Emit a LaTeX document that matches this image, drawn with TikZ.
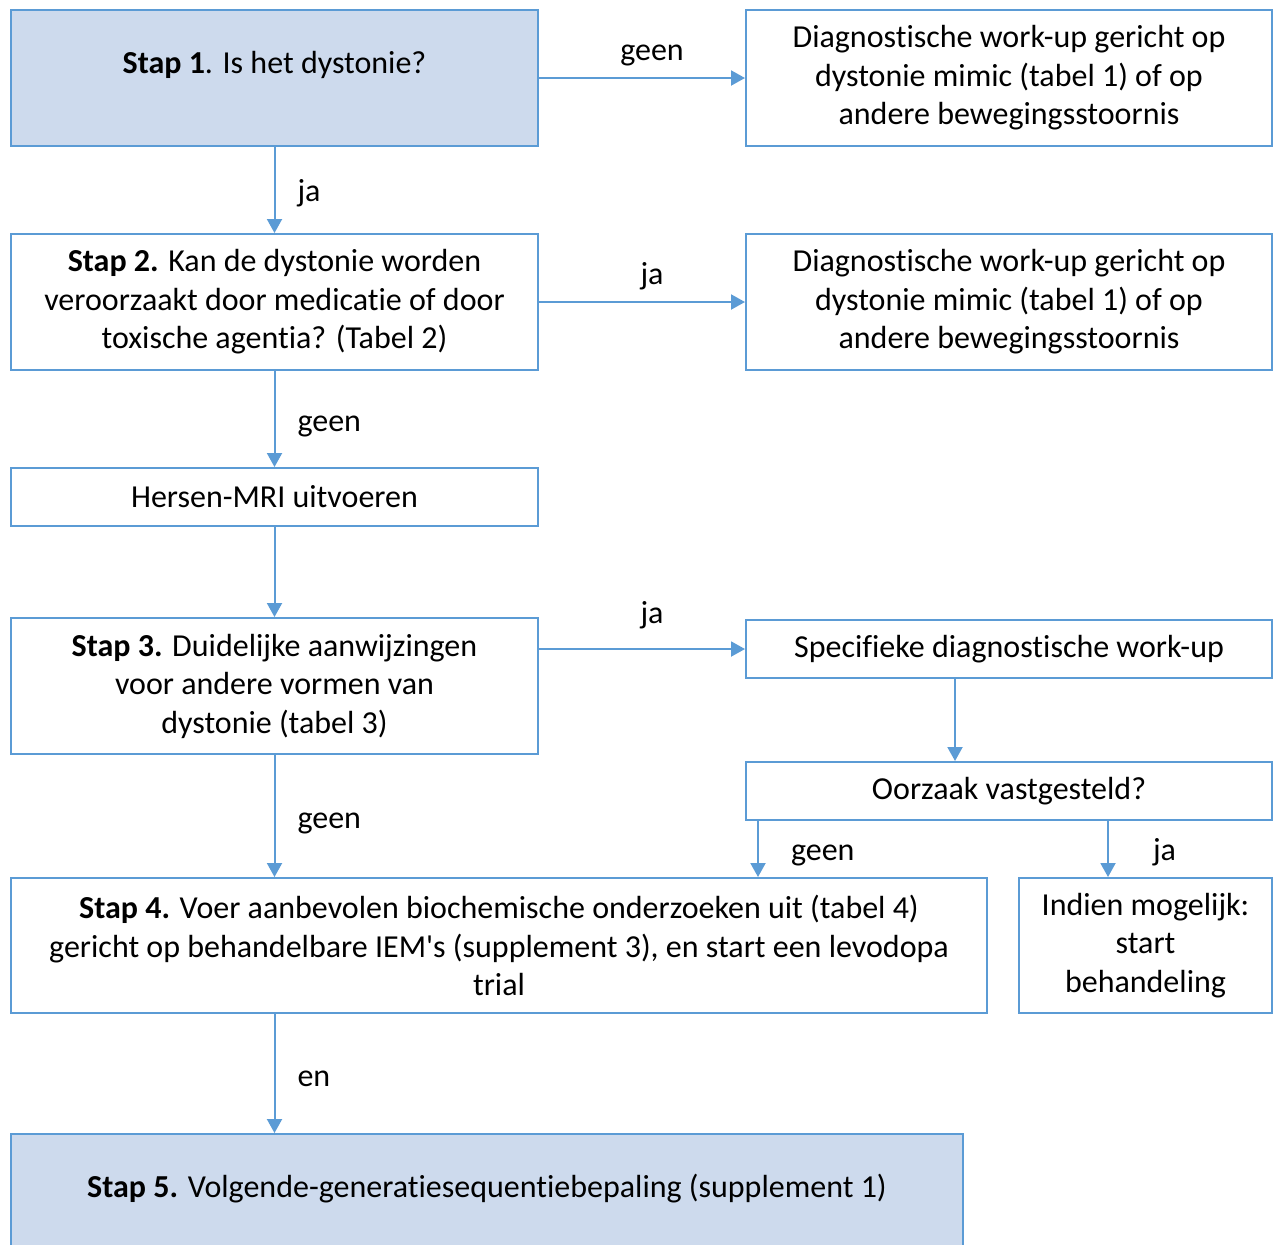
\documentclass[tikz,border=0pt]{standalone}
\usepackage{fontspec}
\setmainfont{Carlito}[RawFeature={-liga;-clig;-dlig;-calt}]
\usetikzlibrary{arrows.meta}
\definecolor{boxblue}{RGB}{91,155,213}
\definecolor{boxfill}{RGB}{205,218,237}
\tikzset{
    box/.style={draw=boxblue, line width=1pt, align=center, inner sep=0pt,
        font=\fontsize{16}{19.25}\selectfont},
    stapbox/.style={box, fill=boxfill, text height=11pt, text depth=15.5pt},
    arr/.style={draw=boxblue, line width=1pt, -{Triangle[length=7pt, width=7.5pt]}},
    lbl/.style={inner sep=0pt, yshift=-1.5pt, font=\fontsize{16}{19.25}\selectfont}
}
\begin{document}
\begin{tikzpicture}[x=0.5pt, y=-0.5pt]
    \useasboundingbox (0,0) rectangle (1277,1244);

    \node[stapbox, minimum width=263.5pt, minimum height=68pt] (s1) at (274.5,78) {\textbf{Stap 1}. Is het dystonie?};
    \node[box, minimum width=263pt, minimum height=68pt] (d1) at (1009,78)
        {Diagnostische work-up gericht op\\ dystonie mimic (tabel 1) of op\\ andere bewegingsstoornis};

    \node[box, minimum width=263.5pt, minimum height=68pt] (s2) at (274.5,302)
        {\textbf{Stap 2.} Kan de dystonie worden\\ veroorzaakt door medicatie of door\\ toxische agentia? (Tabel 2)};
    \node[box, minimum width=263pt, minimum height=68pt] (d2) at (1009,302)
        {Diagnostische work-up gericht op\\ dystonie mimic (tabel 1) of op\\ andere bewegingsstoornis};

    \node[box, minimum width=263.5pt, minimum height=29pt] (mri) at (274.5,497) {Hersen-MRI uitvoeren};

    \node[box, minimum width=263.5pt, minimum height=68pt] (s3) at (274.5,686)
        {\textbf{Stap 3.} Duidelijke aanwijzingen\\ voor andere vormen van\\ dystonie (tabel 3)};
    \node[box, minimum width=263pt, minimum height=29pt] (spec) at (1009,649) {Specifieke diagnostische work-up};
    \node[box, minimum width=263pt, minimum height=29pt] (oorz) at (1009,791) {Oorzaak vastgesteld?};

    \node[box, minimum width=488pt, minimum height=67.5pt] (s4) at (499,945.5)
        {\textbf{Stap 4.} Voer aanbevolen biochemische onderzoeken uit (tabel 4)\\ gericht op behandelbare IEM\textquotesingle s (supplement 3), en start een levodopa\\ trial};
    \node[box, minimum width=126.5pt, minimum height=67.5pt] (ind) at (1145.5,945.5)
        {Indien mogelijk:\\ start\\ behandeling};

    \node[stapbox, minimum width=476pt, minimum height=68pt] (s5) at (487,1202)
        {\textbf{Stap 5.} Volgende-generatiesequentiebepaling (supplement 1)};

    \draw[arr] (s1.east) -- node[lbl, midway, above=7pt, xshift=5pt]{geen} (d1.west);
    \draw[arr] (s2.east) -- node[lbl, midway, above=7pt, xshift=5pt]{ja} (d2.west);
    \draw[arr] (s3.east |- spec.west) -- node[lbl, midway, above=11pt, xshift=5pt]{ja} (spec.west);

    \draw[arr] (s1.south) -- node[lbl, midway, right=11pt]{ja} (s2.north);
    \draw[arr] (s2.south) -- node[lbl, midway, right=11pt, yshift=-2pt]{geen} (mri.north);
    \draw[arr] (mri.south) -- (s3.north);
    \draw[arr] (s3.south) -- node[lbl, midway, right=11pt, yshift=-2pt]{geen} (s3.south |- s4.north);
    \draw[arr] (s4.south -| mri.south) -- node[lbl, midway, right=11pt, yshift=-1pt]{en} (s5.north -| mri.south);

    \draw[arr] ([xshift=-27pt]spec.south) -- ([xshift=-27pt]oorz.north);
    \draw[arr] (oorz.south west) ++(13,0) coordinate (g) -- node[lbl, midway, right=16pt, yshift=-1.5pt]{geen} (g |- s4.north);
    \draw[arr] (oorz.south west) ++(363,0) coordinate (j) -- node[lbl, midway, right=22pt]{ja} (j |- ind.north);
\end{tikzpicture}
\end{document}
